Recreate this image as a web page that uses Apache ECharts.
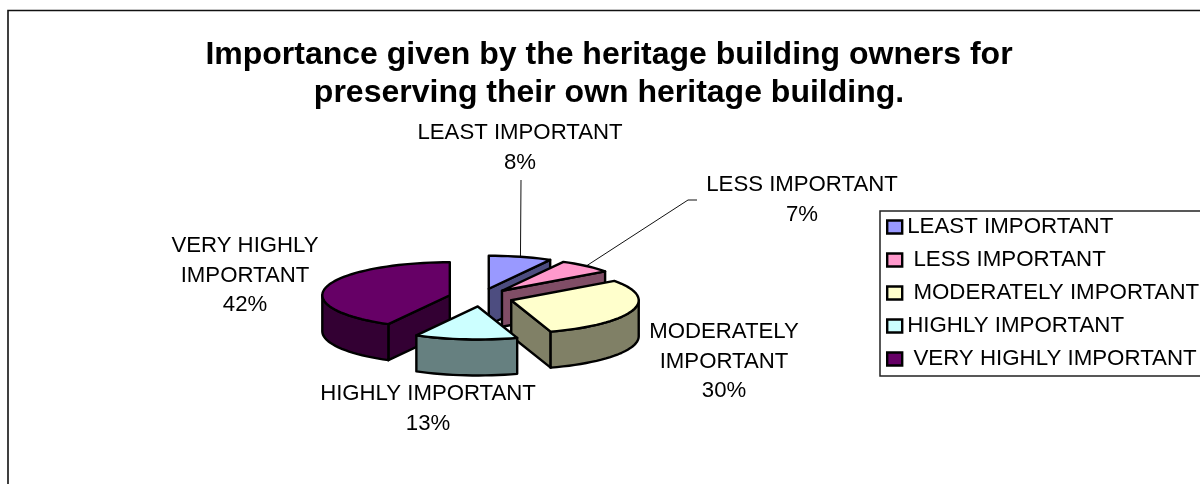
<!DOCTYPE html>
<html>
<head>
<meta charset="utf-8">
<style>html,body{margin:0;padding:0;background:#fff}#c{width:1200px;height:484px}</style>
<script src="https://cdn.jsdelivr.net/npm/echarts@6/dist/echarts.min.js"></script>
</head>
<body>
<div id="c"></div>
<script>
var titleLines = ['Importance given by the heritage building owners for', 'preserving their own heritage building.'];
var categories = ['LEAST IMPORTANT', 'LESS IMPORTANT', 'MODERATELY IMPORTANT', 'HIGHLY IMPORTANT', 'VERY HIGHLY IMPORTANT'];
var labelText = ['LEAST IMPORTANT', 'LESS IMPORTANT', 'MODERATELY\nIMPORTANT', 'HIGHLY IMPORTANT', 'VERY HIGHLY\nIMPORTANT'];
var values = [8, 7, 30, 13, 42];

var topColors = ['#9999FF', '#FF99CC', '#FFFFCC', '#CCFFFF', '#660066'];
var sideColors = ['#4D4D80', '#804D66', '#808066', '#668080', '#330033'];
var drawOrder = [2, 3, 4, 6, 5];
var legendIndent = [0, 1, 1, 0, 1];
var labelAnchor = [[520, 118], [802, 170], [724, 317], [428, 379], [245, 231]];
var leaderFrom = [[521, 180], [688, 200], null, null, null];

var FONT = '"Liberation Sans", Arial, sans-serif';
var cx = 480.8, cy = 297.5, rx = 127.5, ry = 33, depth = 36, exX = 32, exY = 9;
var total = values.reduce(function (a, b) { return a + b; }, 0);

function startOf(i) {
  var s = 0;
  for (var k = 0; k < i; k++) s += values[k];
  return s / total * 360;
}
function arc(ax, ay, a0, a1, dy) {
  var pts = [], n = Math.max(2, Math.ceil((a1 - a0) / 3));
  for (var j = 0; j <= n; j++) {
    var t = (a0 + (a1 - a0) * j / n) * Math.PI / 180;
    pts.push([ax + rx * Math.sin(t), ay - ry * Math.cos(t) + dy]);
  }
  return pts;
}
function poly(points, fill) {
  return {
    type: 'polygon',
    shape: { points: points },
    style: { fill: fill, stroke: '#000', lineWidth: 2.4, lineJoin: 'round' }
  };
}
function renderSlice(params, api) {
  var i = params.seriesIndex;
  var a0 = startOf(i);
  var a1 = a0 + api.value(0) / total * 360;
  var mid = (a0 + a1) / 2 * Math.PI / 180;
  var ax = cx + exX * Math.sin(mid), ay = cy - exY * Math.cos(mid);
  var kids = [];

  function radialWall(ang) {
    var p = arc(ax, ay, ang, ang, 0)[0];
    kids.push(poly([[ax, ay], p, [p[0], p[1] + depth], [ax, ay + depth]], sideColors[i]));
  }
  // a cut face shows when its outward normal points down towards the viewer
  if (Math.cos((a1 + 90) * Math.PI / 180) < -0.01) radialWall(a1);
  if (Math.cos((a0 - 90) * Math.PI / 180) < -0.01) radialWall(a0);

  var r0 = Math.max(a0, 90), r1 = Math.min(a1, 270);
  if (r1 > r0) {
    var upper = arc(ax, ay, r0, r1, 0);
    var lower = arc(ax, ay, r0, r1, depth).reverse();
    kids.push(poly(upper.concat(lower), sideColors[i]));
  }
  kids.push(poly([[ax, ay]].concat(arc(ax, ay, a0, a1, 0)), topColors[i]));

  if (leaderFrom[i]) {
    var rim = arc(ax, ay, (a0 + a1) / 2, (a0 + a1) / 2, 0)[0];
    var route = i === 1 ? [[697, 200], leaderFrom[i], rim] : [leaderFrom[i], rim];
    kids.unshift({
      type: 'polyline',
      shape: { points: route },
      style: { fill: null, stroke: '#111', lineWidth: 1 }
    });
  }
  kids.push({
    type: 'text',
    style: {
      x: labelAnchor[i][0], y: labelAnchor[i][1],
      text: labelText[i] + '\n' + api.value(0) + '%',
      align: 'center', verticalAlign: 'top',
      font: '22.2px ' + FONT, lineHeight: 29.7, fill: '#000'
    }
  });
  return { type: 'group', children: kids };
}

var chart = echarts.init(document.getElementById('c'), null, { renderer: 'canvas' });
chart.setOption({
  animation: false,
  backgroundColor: '#fff',
  legend: {
    orient: 'vertical',
    left: 880, top: 211,
    padding: [5, 30, 6, 6],
    itemWidth: 15, itemHeight: 13, itemGap: 11,
    icon: 'rect',
    data: categories,
    selectedMode: false,
    borderColor: '#222', borderWidth: 1.5,
    backgroundColor: '#fff',
    itemStyle: { borderColor: '#000', borderWidth: 2.4 },
    textStyle: { fontFamily: FONT, fontSize: 22.3, color: '#000' },
    formatter: function (name) {
      return legendIndent[categories.indexOf(name)] ? ' ' + name : name;
    }
  },
  graphic: [
    {
      type: 'polyline', silent: true, z: 0,
      shape: { points: [[8, 484], [8, 10.5], [1200, 10.5]] },
      style: { fill: null, stroke: '#111', lineWidth: 1.6 }
    },
    {
      type: 'text', silent: true,
      style: {
        x: 609, y: 36, text: titleLines.join('\n'),
        align: 'center', verticalAlign: 'top',
        font: 'bold 32px ' + FONT, lineHeight: 38, fill: '#000'
      }
    }
  ],
  series: categories.map(function (name, i) {
    return {
      type: 'custom',
      name: name,
      coordinateSystem: 'none',
      z: drawOrder[i],
      silent: true,
      itemStyle: { color: topColors[i] },
      renderItem: renderSlice,
      data: [values[i]]
    };
  })
});
</script>
</body>
</html>
